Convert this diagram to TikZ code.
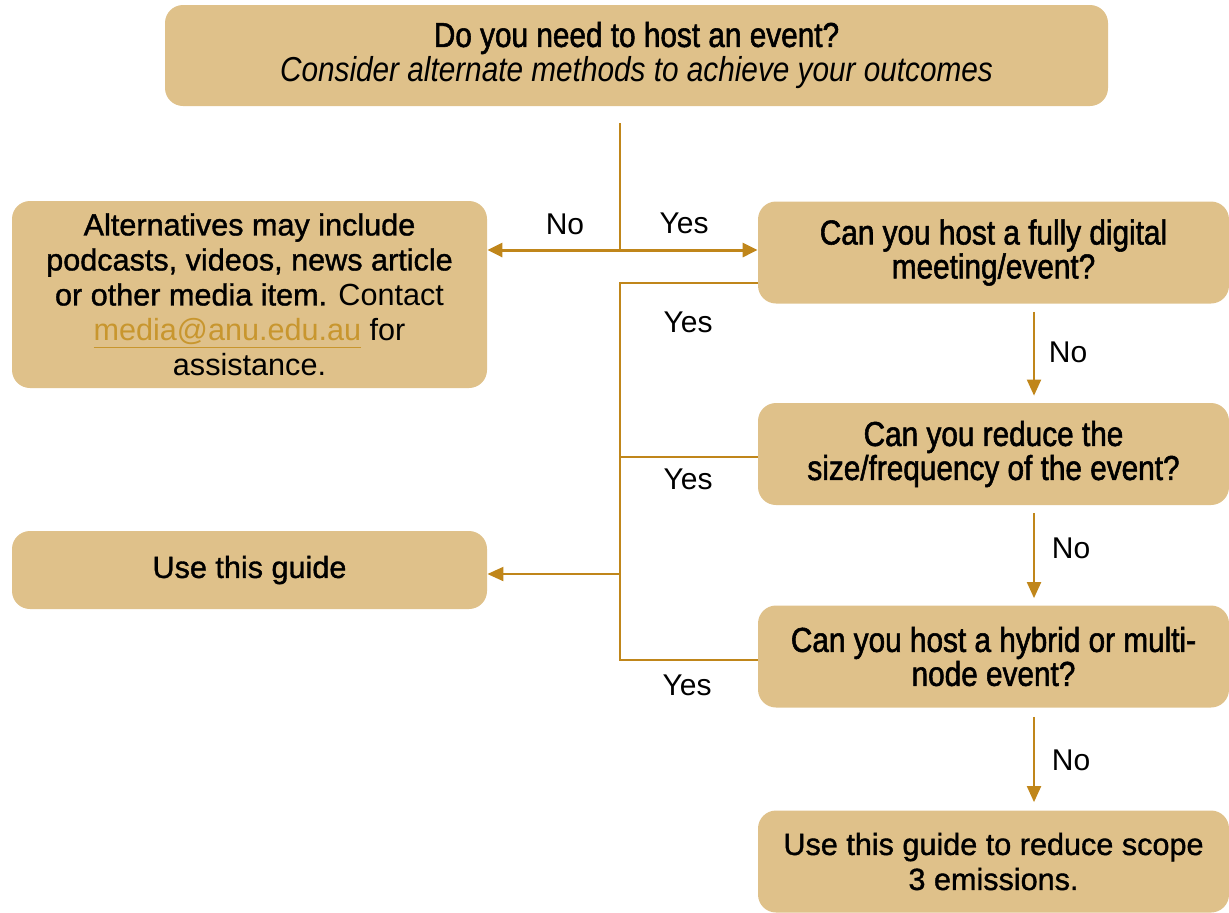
\documentclass[tikz,border=0pt]{standalone}
\usepackage{fontspec}
\setmainfont{Liberation Sans}
\newfontfamily\condfont[FakeStretch=0.86,FakeBold=1.6]{Liberation Sans}
\newfontfamily\medfont[FakeBold=1.2]{Liberation Sans}
\usetikzlibrary{arrows.meta}

\definecolor{boxfill}{HTML}{DFC18A}
\definecolor{linecol}{HTML}{C0861A}
\definecolor{linkcol}{HTML}{C8962E}

\tikzset{
  qbox/.style={fill=boxfill, rounded corners=9pt, inner sep=0pt, align=center,
    minimum width=235.5pt, minimum height=51pt,
    font=\condfont\fontsize{17.3}{17}\selectfont},
  ansbox/.style={qbox, minimum width=237.5pt, font=\fontsize{15.3}{17.5}\selectfont},
  lbl/.style={font=\fontsize{15}{16}\selectfont},
  flow/.style={draw=linecol, line width=1pt, -{Triangle[length=8pt,width=7pt]}},
  mainflow/.style={draw=linecol, line width=1.5pt, -{Triangle[length=7.5pt,width=7pt]}},
  branch/.style={draw=linecol, line width=0.6pt},
}

\begin{document}
\begin{tikzpicture}[x=0.5pt,y=-0.5pt]
\useasboundingbox (0,0) rectangle (1229,912);

% boxes
\node[qbox, minimum width=471.5pt, minimum height=50.5pt,
  font=\condfont\fontsize{17.3}{17.5}\selectfont] (event) at (636.5,55.5)
  {Do you need to host an event?\\ {\addfontfeature{FakeBold=0}\itshape Consider alternate methods to achieve your outcomes}};

\node[ansbox, minimum height=93.5pt] (alt) at (249.5,294.5)
  {{\medfont Alternatives may include}\\ {\medfont podcasts, videos, news article}\\
   {\medfont or other media item.} Contact\\
   \textcolor{linkcol}{\underline{media@anu.edu.au}} for\\ assistance.};

\node[qbox] (digital) at (993.5,252.5) {Can you host a fully digital\\ meeting/event?};
\node[qbox] (reduce)  at (993.5,454)   {Can you reduce the\\ size/frequency of the event?};
\node[qbox] (hybrid)  at (993.5,656.5) {Can you host a hybrid or multi-\\ node event?};
\node[ansbox, minimum width=235.5pt, font=\medfont\fontsize{15.3}{17.5}\selectfont] (final) at (993.5,861.5)
  {Use this guide to reduce scope\\ 3 emissions.};

\node[ansbox, minimum height=39pt, font=\medfont\fontsize{15.3}{17.5}\selectfont] (guide) at (249.5,570) {Use this guide};

% joints
\coordinate (stem)  at (620,123);
\coordinate (split) at (620,250);
\coordinate (ytop)  at (620,283);
\coordinate (ymid)  at (620,457);
\coordinate (ybot)  at (620,660);
\coordinate (yout)  at (620,574);

% first question
\draw[branch] (stem) -- (split);
\draw[mainflow] (split) -- (alt.east |- split);
\draw[mainflow] (split) -- (digital.west |- split);
\node[lbl] (noA)  at (565,224) {No};
\node[lbl] (yesA) at (684,223) {Yes};

% yes branches
\draw[branch] (digital.west |- ytop) -- (ytop) -- (ybot) -- (hybrid.west |- ybot);
\draw[branch] (reduce.west |- ymid) -- (ymid);
\draw[flow] (yout) -- (guide.east |- yout);
\node[lbl] (yesB) at (688,322) {Yes};
\node[lbl] (yesC) at (688,479) {Yes};
\node[lbl] (yesD) at (687,685) {Yes};

% no branches
\draw[flow] ([xshift=20.25pt,yshift=-4pt]digital.south) -- ([xshift=20.25pt,yshift=3.5pt]reduce.north);
\draw[flow] ([xshift=20.25pt,yshift=-4pt]reduce.south) -- ([xshift=20.25pt,yshift=3.5pt]hybrid.north);
\draw[flow] ([xshift=20.25pt,yshift=-4.5pt]hybrid.south) -- ([xshift=20.25pt,yshift=4pt]final.north);
\node[lbl] (noB) at (1068,352) {No};
\node[lbl] (noC) at (1071,548) {No};
\node[lbl] (noD) at (1071,760) {No};

\end{tikzpicture}
\end{document}
